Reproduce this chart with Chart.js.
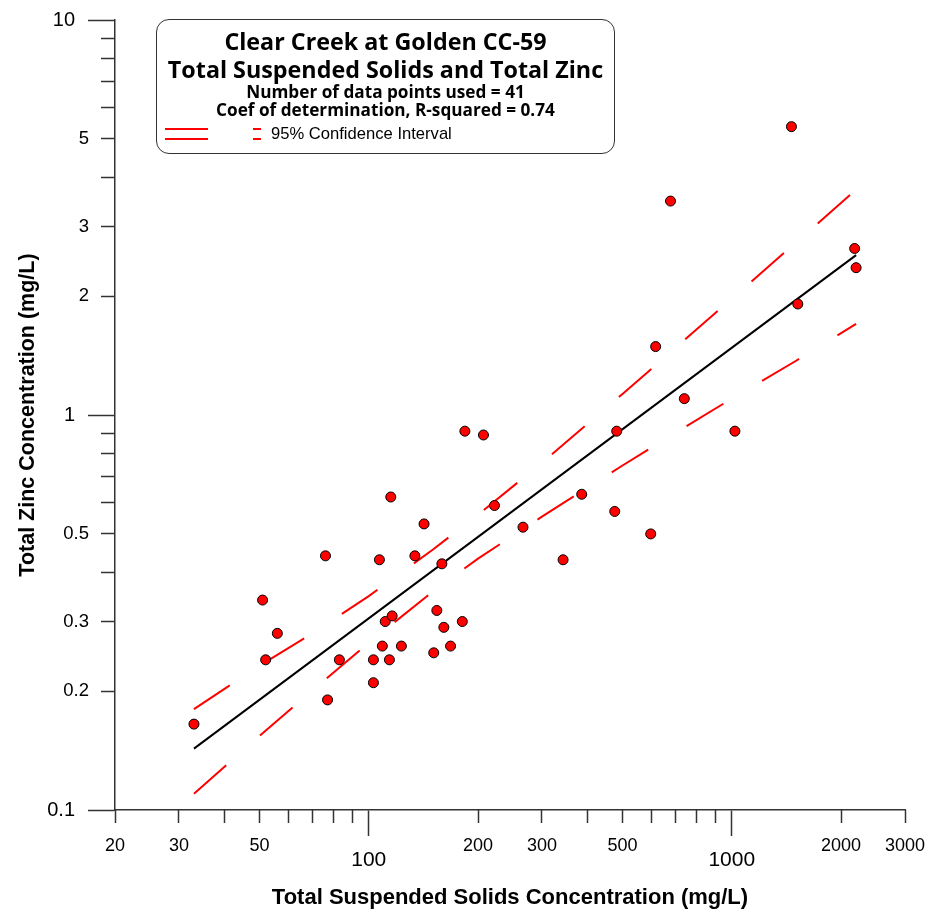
<!DOCTYPE html>
<html>
<head>
<meta charset="utf-8">
<script src="https://cdn.jsdelivr.net/npm/chart.js"></script>
<style>
  html, body { margin: 0; padding: 0; background: #fff; }
  #wrap { position: relative; width: 930px; height: 915px; }
  #c { position: absolute; left: 0; top: 0; }
  .box {
    position: absolute; left: 156px; top: 19px; width: 457px; height: 133px;
    border: 1.3px solid #333; border-radius: 13px; background: #fff;
  }
  .line {
    position: absolute; left: 156px; width: 459px; text-align: center;
    font-family: "Open Sans", "Noto Sans", sans-serif; font-weight: 700; color: #000;
    white-space: nowrap;
  }
  .t1 { top: 30.3px; font-size: 23.3px; line-height: 23.3px; }
  .t2 { top: 57.6px; font-size: 23.3px; line-height: 23.3px; }
  .t3 { top: 83px; font-size: 17.2px; line-height: 17.2px; }
  .t4 { top: 101.4px; font-size: 17.2px; line-height: 17.2px; }
  .key {
    position: absolute; left: 271px; top: 126px; font-family: "Liberation Sans", Arial, sans-serif;
    font-size: 16.6px; line-height: 16.6px; color: #000; white-space: nowrap;
  }
  .dash { position: absolute; height: 2px; background: #ff0000; }
</style>
</head>
<body>
<div id="wrap">
  <canvas id="c" width="930" height="915"></canvas>
  <div class="box"></div>
  <div class="line t1">Clear Creek at Golden CC-59</div>
  <div class="line t2">Total Suspended Solids and Total Zinc</div>
  <div class="line t3">Number of data points used = 41</div>
  <div class="line t4">Coef of determination, R-squared = 0.74</div>
  <div class="dash" style="left:165px; top:128px; width:43px;"></div>
  <div class="dash" style="left:165px; top:138px; width:43px;"></div>
  <div class="dash" style="left:253px; top:128px; width:8px;"></div>
  <div class="dash" style="left:253px; top:138px; width:8px;"></div>
  <div class="key">95% Confidence Interval</div>
</div>
<script>
// Paired samples: total suspended solids (mg/L) and total zinc (mg/L)
const tssConcentration = [
  184, 207, 115, 142, 76, 107, 134, 159, 222, 266,
  51, 56, 52, 83, 103, 114, 109, 123, 111, 116,
  154, 161, 181, 151, 168, 103, 77, 1460, 678, 2180,
  2200, 1520, 617, 740, 482, 1020, 386, 476, 343, 598,
  33
];
const zincConcentration = [
  0.91, 0.89, 0.62, 0.53, 0.44, 0.43, 0.44, 0.42, 0.59, 0.52,
  0.34, 0.28, 0.24, 0.24, 0.24, 0.24, 0.26, 0.26, 0.30, 0.31,
  0.32, 0.29, 0.30, 0.25, 0.26, 0.21, 0.19, 5.37, 3.48, 2.64,
  2.36, 1.91, 1.49, 1.10, 0.91, 0.91, 0.63, 0.57, 0.43, 0.50,
  0.165
];

// Log-log regression line end points
const fitTss = [33, 2200];
const fitZinc = [0.143, 2.54];

// 95% confidence band
const bandTss = [33, 50, 70, 100, 150, 200, 300, 500, 700, 1000, 1500, 2200];
const bandUpper = [0.180, 0.232, 0.280, 0.348, 0.456, 0.559, 0.757, 1.13, 1.48, 1.97, 2.73, 3.72];
const bandLower = [0.110, 0.154, 0.201, 0.265, 0.357, 0.433, 0.553, 0.745, 0.902, 1.10, 1.37, 1.70];

// Axis ticks
const xMajorTicks = [100, 1000];
const xMinorTicks = [20, 30, 40, 50, 60, 70, 80, 90, 200, 300, 400, 500, 600, 700, 800, 900, 2000, 3000];
const xMinorLabels = [20, 30, 50, 200, 300, 500, 2000, 3000];
const yMajorTicks = [0.1, 1, 10];
const yMinorTicks = [0.2, 0.3, 0.4, 0.5, 0.6, 0.7, 0.8, 0.9, 2, 3, 4, 5, 6, 7, 8, 9];
const yMinorLabels = [0.2, 0.3, 0.5, 2, 3, 5];

const pairs = (xs, ys) => xs.map((x, i) => ({ x: x, y: ys[i] }));
const setTicks = list => scale => { scale.ticks = list.map(v => ({ value: v })); };
const labelFrom = list => v => (list.indexOf(v) >= 0 ? String(v) : '');
const AXIS = '#333';
const sans = '"Liberation Sans", Arial, sans-serif';

// Fixed axis box sizes; edge labels may hang into the page margins
const fixSize = (w, h) => s => {
  if (w !== null) s.width = w;
  if (h !== null) s.height = h;
  s.paddingLeft = 0; s.paddingRight = 0; s.paddingTop = 0; s.paddingBottom = 0;
};

// Minor-tick axes take no layout space; widen their label area afterwards
const minorAxisArea = {
  id: 'minorAxisArea',
  afterLayout(chart) {
    chart.scales.yMinor.left = 0;
    chart.scales.xMinor.bottom = chart.height;
  }
};

new Chart(document.getElementById('c'), {
  type: 'scatter',
  plugins: [minorAxisArea],
  data: {
    datasets: [
      {
        label: 'Samples',
        data: pairs(tssConcentration, zincConcentration),
        pointRadius: 5,
        pointBackgroundColor: '#ff0000',
        pointBorderColor: '#000',
        pointBorderWidth: 1,
        order: 0
      },
      {
        label: 'Regression',
        data: pairs(fitTss, fitZinc),
        showLine: true,
        borderColor: '#000',
        borderWidth: 2,
        pointRadius: 0,
        order: 1
      },
      {
        label: '95% Confidence Interval (upper)',
        data: pairs(bandTss, bandUpper),
        showLine: true,
        borderColor: '#ff0000',
        borderWidth: 2,
        borderDash: [43, 45],
        pointRadius: 0,
        order: 2
      },
      {
        label: '95% Confidence Interval (lower)',
        data: pairs(bandTss, bandLower),
        showLine: true,
        borderColor: '#ff0000',
        borderWidth: 2,
        borderDash: [43, 45],
        pointRadius: 0,
        order: 2
      }
    ]
  },
  options: {
    responsive: false,
    animation: false,
    layout: { padding: { top: 20, right: 25, left: 0, bottom: 0 } },
    plugins: { legend: { display: false }, tooltip: { enabled: false } },
    scales: {
      x: {
        type: 'logarithmic', axis: 'x', position: 'bottom', weight: 1,
        min: 20, max: 3000,
        afterBuildTicks: setTicks(xMajorTicks),
        afterFit: fixSize(null, 105),
        ticks: {
          callback: labelFrom(xMajorTicks), autoSkip: false, maxRotation: 0,
          color: '#000', padding: 12, font: { family: sans, size: 21 }
        },
        grid: { drawOnChartArea: false, tickLength: 26, tickColor: AXIS, tickWidth: 1.5 },
        border: { display: true, color: AXIS, width: 1.5 },
        title: {
          display: true, text: 'Total Suspended Solids Concentration (mg/L)',
          color: '#000', font: { family: sans, size: 22, weight: 'bold' },
          padding: { top: 0, bottom: 4 }
        }
      },
      xMinor: {
        type: 'logarithmic', axis: 'x', position: 'bottom', weight: 0,
        min: 20, max: 3000,
        afterBuildTicks: setTicks(xMinorTicks),
        afterFit: fixSize(null, 0),
        ticks: {
          callback: labelFrom(xMinorLabels), autoSkip: false, maxRotation: 0,
          color: '#000', padding: 12, font: { family: sans, size: 18 }
        },
        grid: { drawOnChartArea: false, tickLength: 13, tickColor: AXIS, tickWidth: 1.5 },
        border: { display: false }
      },
      y: {
        type: 'logarithmic', axis: 'y', position: 'left', weight: 1,
        min: 0.1, max: 10,
        afterBuildTicks: setTicks(yMajorTicks),
        afterFit: fixSize(115, null),
        ticks: {
          callback: labelFrom(yMajorTicks), autoSkip: false,
          color: '#000', padding: 13, font: { family: sans, size: 20 }
        },
        grid: { drawOnChartArea: false, tickLength: 27, tickColor: AXIS, tickWidth: 1.5 },
        border: { display: true, color: AXIS, width: 1.5 },
        title: {
          display: true, text: 'Total Zinc Concentration (mg/L)',
          color: '#000', font: { family: sans, size: 21.5, weight: 'bold' },
          padding: { top: 15, bottom: 0 }
        }
      },
      yMinor: {
        type: 'logarithmic', axis: 'y', position: 'left', weight: 0,
        min: 0.1, max: 10,
        afterBuildTicks: setTicks(yMinorTicks),
        afterFit: fixSize(0, null),
        ticks: {
          callback: labelFrom(yMinorLabels), autoSkip: false,
          color: '#000', padding: 12, font: { family: sans, size: 18.5 }
        },
        grid: { drawOnChartArea: false, tickLength: 14, tickColor: AXIS, tickWidth: 1.5 },
        border: { display: false }
      }
    }
  }
});
</script>
</body>
</html>
